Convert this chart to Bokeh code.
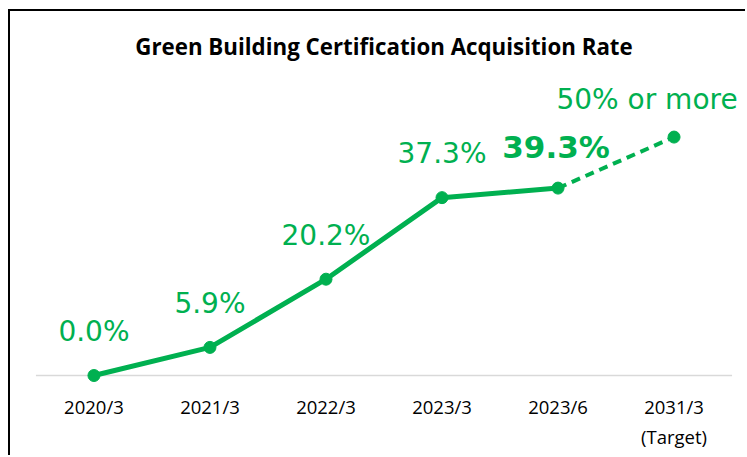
from bokeh.plotting import figure
from bokeh.models import ColumnDataSource, FactorRange, Range1d, Title, LabelSet
from bokeh.core.properties import value
from bokeh.embed import file_html
from bokeh.resources import INLINE

categories = ["2020/3", "2021/3", "2022/3", "2023/3", "2023/6", "2031/3"]
sub_labels = ["", "", "", "", "", "(Target)"]
actual_vals = [0.0, 5.9, 20.2, 37.3, 39.3]
actual_labels = ["0.0%", "5.9%", "20.2%", "37.3%", "39.3%"]
target_vals = [39.3, 50.0]
target_label = "50% or more"

GREEN = "#00B050"

factors = [(g, c) for g, c in zip(sub_labels, categories)]
actual_x = factors[:5]
target_x = factors[4:6]

xr = FactorRange(*factors, group_padding=0, factor_padding=0,
                 range_padding=0.09, range_padding_units="absolute")
p = figure(width=737, height=446, x_range=xr,
           y_range=Range1d(-3.35, 63.75), output_backend="svg", toolbar_location=None,
           min_border_left=15, min_border_right=5, min_border_bottom=66,
           min_border_top=60)
p.margin = (9, 0, 0, 8)
p.styles = {"border-left": "2px solid black", "border-top": "2px solid black"}

p.title = Title(text="Green Building Certification Acquisition Rate", align="center",
                text_font="Open Sans", text_font_size="22.3px", text_font_style="bold",
                text_color="#000000", offset=0, standoff=19)
p.outline_line_color = None
p.grid.grid_line_color = None
p.yaxis.visible = False
p.background_fill_color = "white"
p.border_fill_color = "white"

xa = p.xaxis[0]
xa.axis_line_color = None
xa.major_tick_line_color = None
xa.minor_tick_line_color = None
xa.major_tick_out = 0
xa.major_tick_in = 0
xa.major_label_standoff = 2
xa.major_label_text_font = "Open Sans"
xa.major_label_text_font_size = "18.5px"
xa.major_label_text_color = "#000000"
xa.group_text_font = "Open Sans"
xa.group_text_font_size = "18.5px"
xa.group_text_font_style = "normal"
xa.group_text_color = "#000000"
xa.group_label_orientation = "horizontal"
xa.separator_line_color = None

# category-axis baseline spanning the full extent of the categories
first, last = factors[0], factors[-1]
p.segment(x0=[(first[0], first[1], -0.5)], x1=[(last[0], last[1], 0.5)], y0=[0], y1=[0],
          line_color="#d9d9d9", line_width=1.5)

src = ColumnDataSource(dict(x=actual_x, y=actual_vals, label=actual_labels))
tgt = ColumnDataSource(dict(x=target_x, y=target_vals))

p.line("x", "y", source=tgt, line_color=GREEN, line_width=4, line_dash="9 6")
p.line("x", "y", source=src, line_color=GREEN, line_width=5)
p.scatter("x", "y", source=src, size=12, fill_color=GREEN, line_color=GREEN)
p.scatter(x=[target_x[-1]], y=[target_vals[-1]], size=12, fill_color=GREEN, line_color=GREEN)

FONT = value("DejaVu Sans")
normal = ColumnDataSource(dict(x=actual_x[:4], y=actual_vals[:4], label=actual_labels[:4]))
p.add_layout(LabelSet(x="x", y="y", text="label", source=normal, text_color=GREEN,
                      text_font=FONT, text_font_size=value("28px"),
                      text_align="center", text_baseline="middle", y_offset=44))
bold = ColumnDataSource(dict(x=[actual_x[4]], y=[actual_vals[4]], label=[actual_labels[4]]))
p.add_layout(LabelSet(x="x", y="y", text="label", source=bold, text_color=GREEN,
                      text_font=FONT, text_font_size=value("31px"), text_font_style="bold",
                      text_align="center", text_baseline="middle", y_offset=41, x_offset=-2))
tsrc = ColumnDataSource(dict(x=[target_x[-1]], y=[target_vals[-1]], label=[target_label]))
p.add_layout(LabelSet(x="x", y="y", text="label", source=tsrc, text_color=GREEN,
                      text_font=FONT, text_font_size=value("28px"),
                      text_align="center", text_baseline="middle", y_offset=38, x_offset=-27))

open("out.html", "w").write(file_html(p, INLINE))
